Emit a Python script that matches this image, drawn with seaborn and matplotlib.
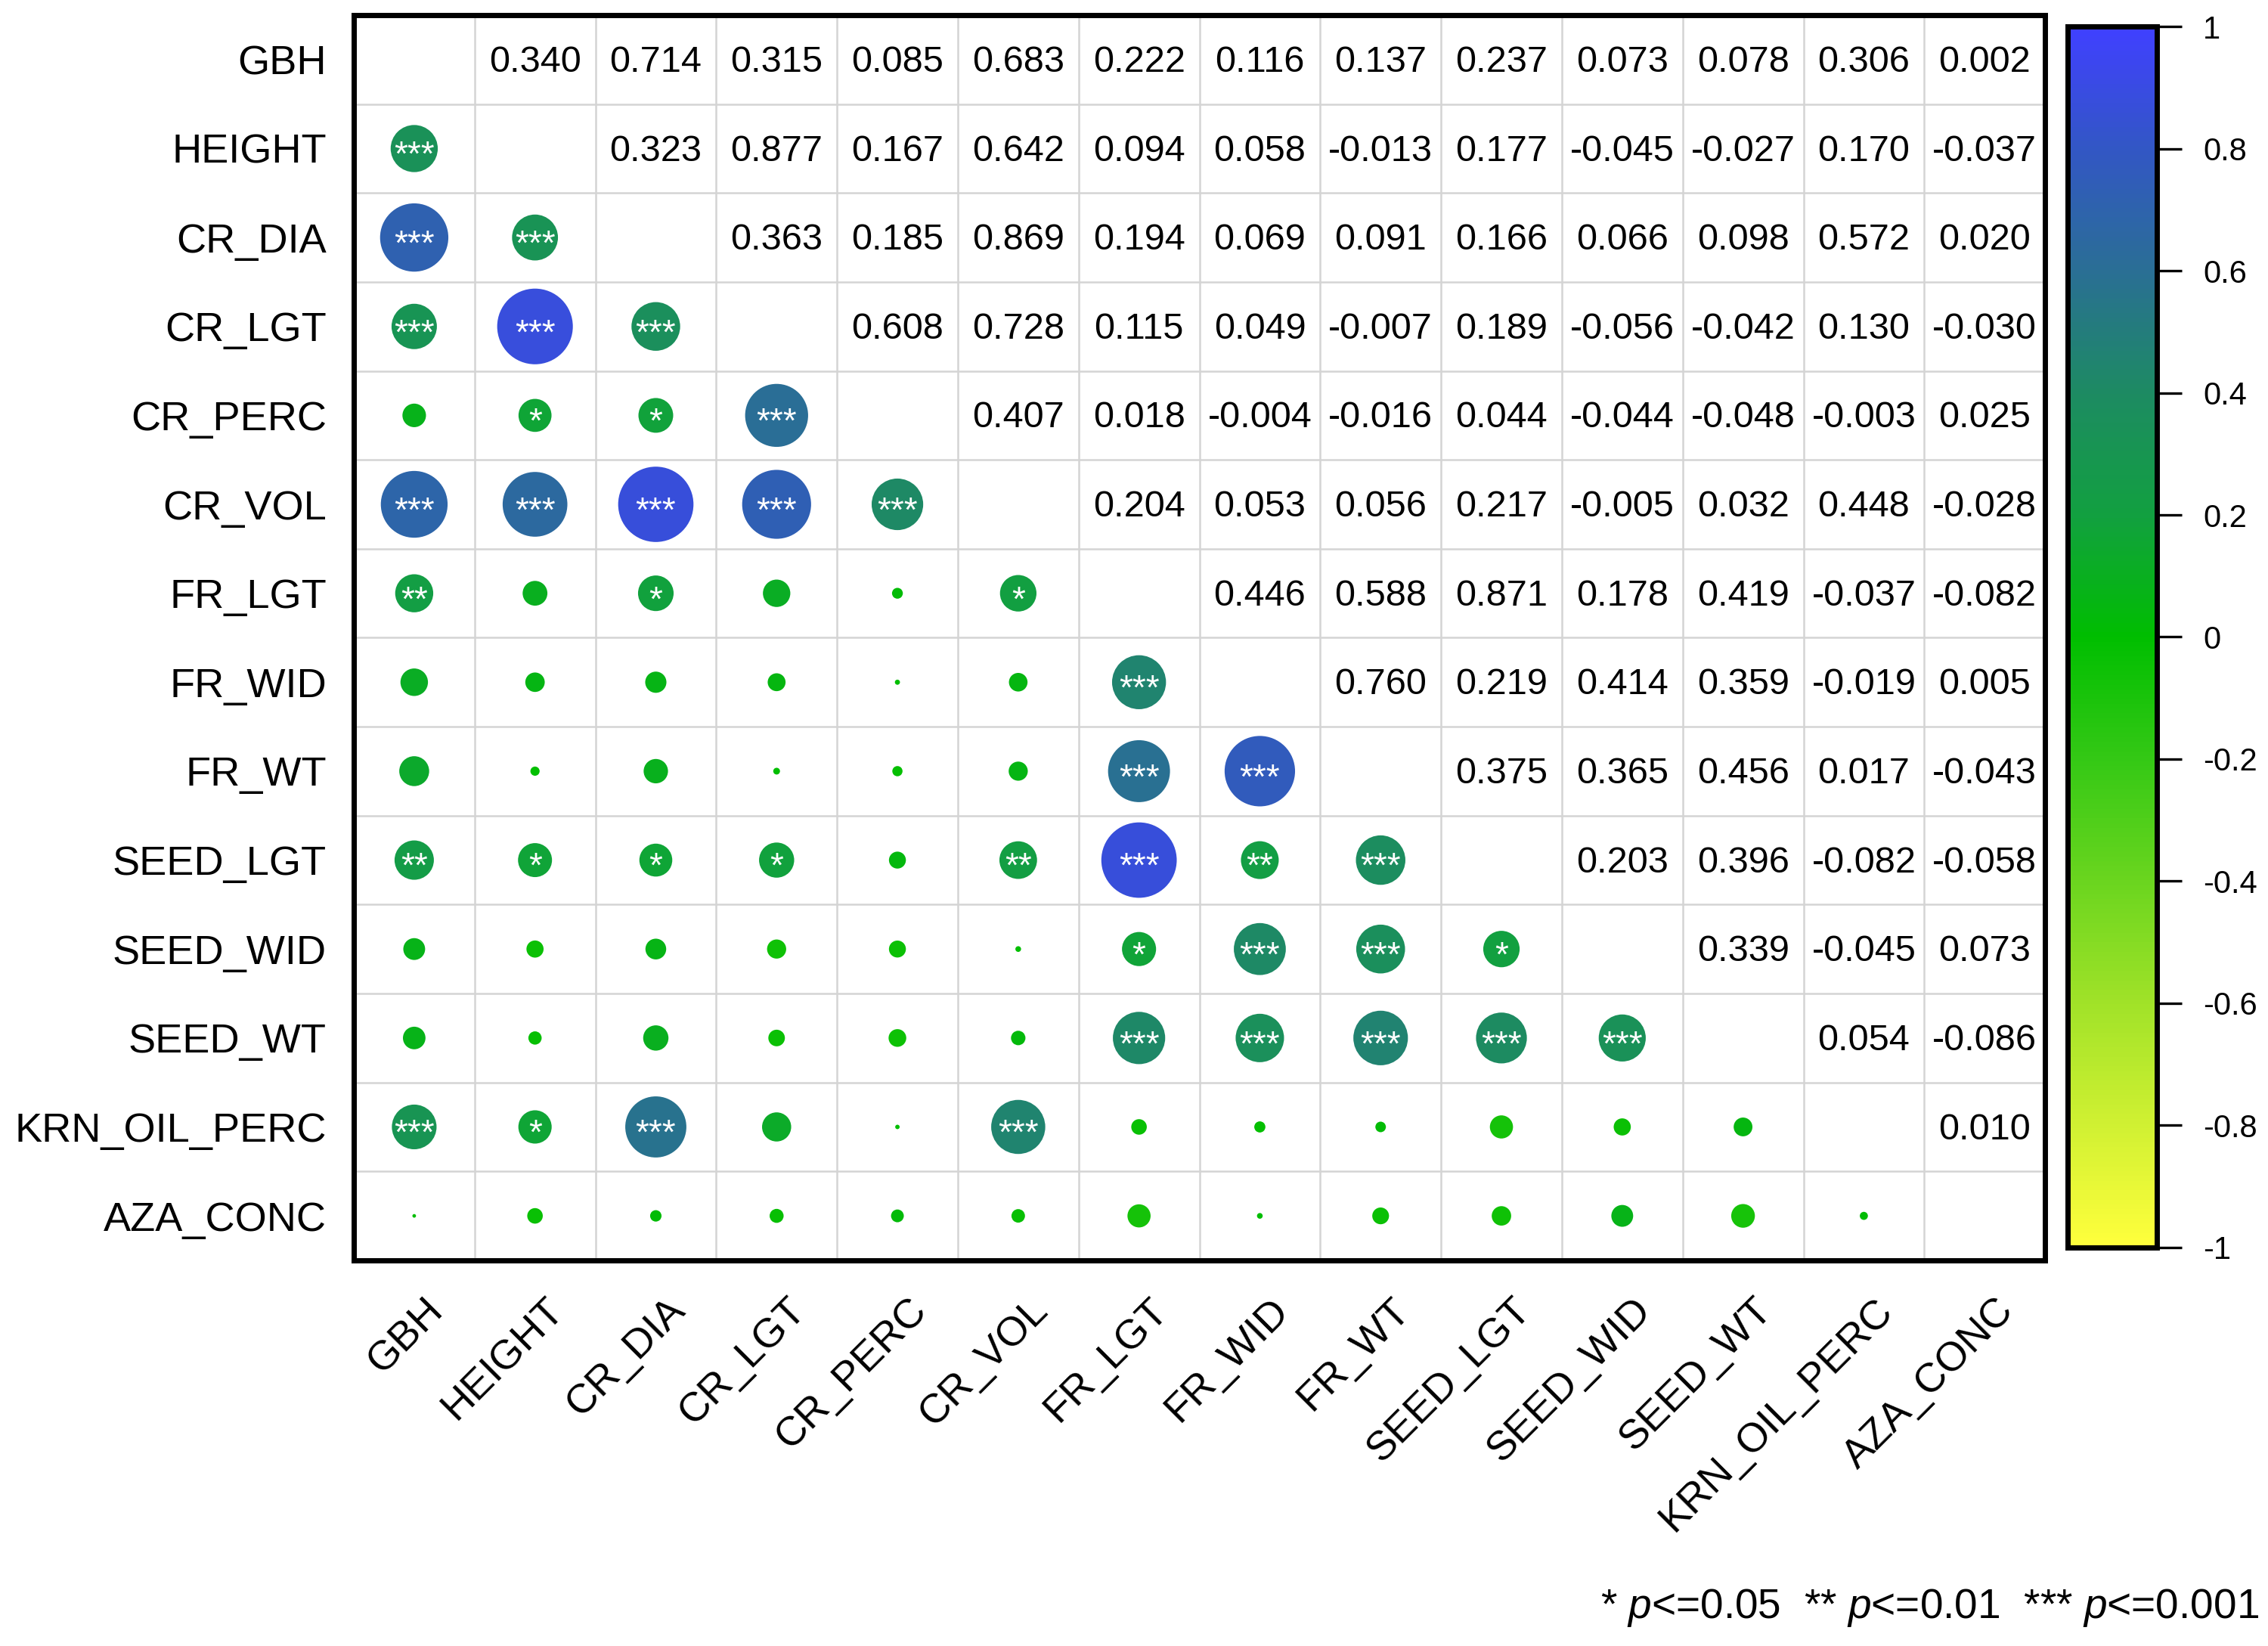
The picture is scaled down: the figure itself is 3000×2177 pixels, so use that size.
import numpy as np
import pandas as pd
import matplotlib.pyplot as plt
import matplotlib.transforms as mtransforms
from matplotlib.colors import LinearSegmentedColormap, Normalize
from matplotlib.cm import ScalarMappable
import seaborn as sns

variaveis = ['GBH', 'HEIGHT', 'CR_DIA', 'CR_LGT', 'CR_PERC', 'CR_VOL', 'FR_LGT',
             'FR_WID', 'FR_WT', 'SEED_LGT', 'SEED_WID', 'SEED_WT', 'KRN_OIL_PERC', 'AZA_CONC']

# correlacoes (triangulo superior, linha a linha)
r_gbh = [0.340, 0.714, 0.315, 0.085, 0.683, 0.222, 0.116, 0.137, 0.237, 0.073, 0.078, 0.306, 0.002]
r_height = [0.323, 0.877, 0.167, 0.642, 0.094, 0.058, -0.013, 0.177, -0.045, -0.027, 0.170, -0.037]
r_cr_dia = [0.363, 0.185, 0.869, 0.194, 0.069, 0.091, 0.166, 0.066, 0.098, 0.572, 0.020]
r_cr_lgt = [0.608, 0.728, 0.115, 0.049, -0.007, 0.189, -0.056, -0.042, 0.130, -0.030]
r_cr_perc = [0.407, 0.018, -0.004, -0.016, 0.044, -0.044, -0.048, -0.003, 0.025]
r_cr_vol = [0.204, 0.053, 0.056, 0.217, -0.005, 0.032, 0.448, -0.028]
r_fr_lgt = [0.446, 0.588, 0.871, 0.178, 0.419, -0.037, -0.082]
r_fr_wid = [0.760, 0.219, 0.414, 0.359, -0.019, 0.005]
r_fr_wt = [0.375, 0.365, 0.456, 0.017, -0.043]
r_seed_lgt = [0.203, 0.396, -0.082, -0.058]
r_seed_wid = [0.339, -0.045, 0.073]
r_seed_wt = [0.054, -0.086]
r_krn_oil = [0.010]

r_linhas = [r_gbh, r_height, r_cr_dia, r_cr_lgt, r_cr_perc, r_cr_vol, r_fr_lgt,
            r_fr_wid, r_fr_wt, r_seed_lgt, r_seed_wid, r_seed_wt, r_krn_oil]

# significancia (triangulo inferior, linha a linha)
sig_linhas = [
    [],
    ['***'],
    ['***', '***'],
    ['***', '***', '***'],
    ['', '*', '*', '***'],
    ['***', '***', '***', '***', '***'],
    ['**', '', '*', '', '', '*'],
    ['', '', '', '', '', '', '***'],
    ['', '', '', '', '', '', '***', '***'],
    ['**', '*', '*', '*', '', '**', '***', '**', '***'],
    ['', '', '', '', '', '', '*', '***', '***', '*'],
    ['', '', '', '', '', '', '***', '***', '***', '***', '***'],
    ['***', '*', '***', '', '', '***', '', '', '', '', '', ''],
    [''] * 13,
]

escala_ticks = [-1, -0.8, -0.6, -0.4, -0.2, 0, 0.2, 0.4, 0.6, 0.8, 1]

n = len(variaveis)
R = np.eye(n)
for i, linha in enumerate(r_linhas):
    for k, v in enumerate(linha):
        j = i + 1 + k
        R[i, j] = v
        R[j, i] = v

registros = []
for i in range(n):
    for j in range(i):
        registros.append({'coluna': j, 'linha': i, 'r': R[i, j], 'absr': abs(R[i, j]),
                          'sig': sig_linhas[i][j]})
df = pd.DataFrame(registros)

cores = LinearSegmentedColormap.from_list('corr', [
    (0.0, '#FFFF3C'), (0.2, '#A0E228'), (0.4, '#34C815'), (0.5, '#00BE00'),
    (0.6, '#12A040'), (0.7, '#1D8B62'), (0.8, '#2A6F94'), (0.9, '#3257C4'), (1.0, '#4040FF')])

sns.set_style('white')
plt.rcParams['font.family'] = ['Liberation Sans', 'DejaVu Sans']
plt.rcParams['axes.unicode_minus'] = False
plt.rcParams['mathtext.fontset'] = 'custom'
plt.rcParams['mathtext.rm'] = 'Liberation Sans'
plt.rcParams['mathtext.it'] = 'Liberation Sans:italic'
plt.rcParams['text.color'] = 'black'
plt.rcParams['xtick.color'] = 'black'
plt.rcParams['ytick.color'] = 'black'
plt.rcParams['ytick.direction'] = 'out'
plt.rcParams['ytick.major.size'] = 12
plt.rcParams['ytick.major.width'] = 1.2

fig = plt.figure(figsize=(15, 10.885), dpi=200)
ax = fig.add_axes([0.156, 0.2343, 0.7457, 0.7565])

for k in range(n - 1):
    ax.axhline(k + 0.5, color='#D4D4D4', lw=0.9, zorder=0)
    ax.axvline(k + 0.5, color='#D4D4D4', lw=0.9, zorder=0)

sns.scatterplot(data=df, x='coluna', y='linha', hue='r', size='absr', palette=cores,
                hue_norm=(-1, 1), sizes=(0, 1480), size_norm=(0, 1), linewidth=0,
                legend=False, ax=ax, zorder=2)

for _, row in df.iterrows():
    if row['sig']:
        ax.text(row['coluna'], row['linha'] + 0.09, row['sig'], color='white',
                fontsize=16.5, ha='center', va='center', zorder=3)

for i in range(n):
    for j in range(i + 1, n):
        ax.text(j, i + 0.03, f"{R[i, j]:.3f}", fontsize=17.5, ha='center', va='center', zorder=3)

ax.set_xlim(-0.5, n - 0.5)
ax.set_ylim(n - 0.5, -0.5)
ax.set_xticks(range(n))
ax.set_yticks(range(n))
ax.set_xticklabels(variaveis, rotation=45, ha='right', va='center', rotation_mode='anchor',
                   fontsize=19.5)
ax.set_yticklabels(variaveis, fontsize=19.5)
ax.tick_params(length=0)
ax.tick_params(axis='y', pad=13)
ax.tick_params(axis='x', pad=21)
ax.set_xlabel('')
ax.set_ylabel('')
desloc = mtransforms.ScaledTranslation(11 / 72, 0, fig.dpi_scale_trans)
for lab in ax.get_xticklabels():
    lab.set_transform(lab.get_transform() + desloc)
for s in ax.spines.values():
    s.set_visible(True)
    s.set_color('black')
    s.set_linewidth(2.5)

cax = fig.add_axes([0.9117, 0.2421, 0.0393, 0.7418])
cb = fig.colorbar(ScalarMappable(norm=Normalize(-1, 1), cmap=cores), cax=cax)
cb.set_ticks(escala_ticks)
cb.set_ticklabels([f"{v:g}" for v in escala_ticks])
cb.outline.set_linewidth(2.5)
cb.outline.set_edgecolor('black')
cb.ax.yaxis.set_tick_params(which='major', right=True, direction='out', length=12, width=1.2,
                            color='black', labelcolor='black', labelsize=15, pad=10)

fig.text(0.996, 0.023, r"* $\mathit{p}$<=0.05  ** $\mathit{p}$<=0.01  *** $\mathit{p}$<=0.001",
         ha='right', va='center', fontsize=19.8)

fig.savefig('out.png', dpi=200)
